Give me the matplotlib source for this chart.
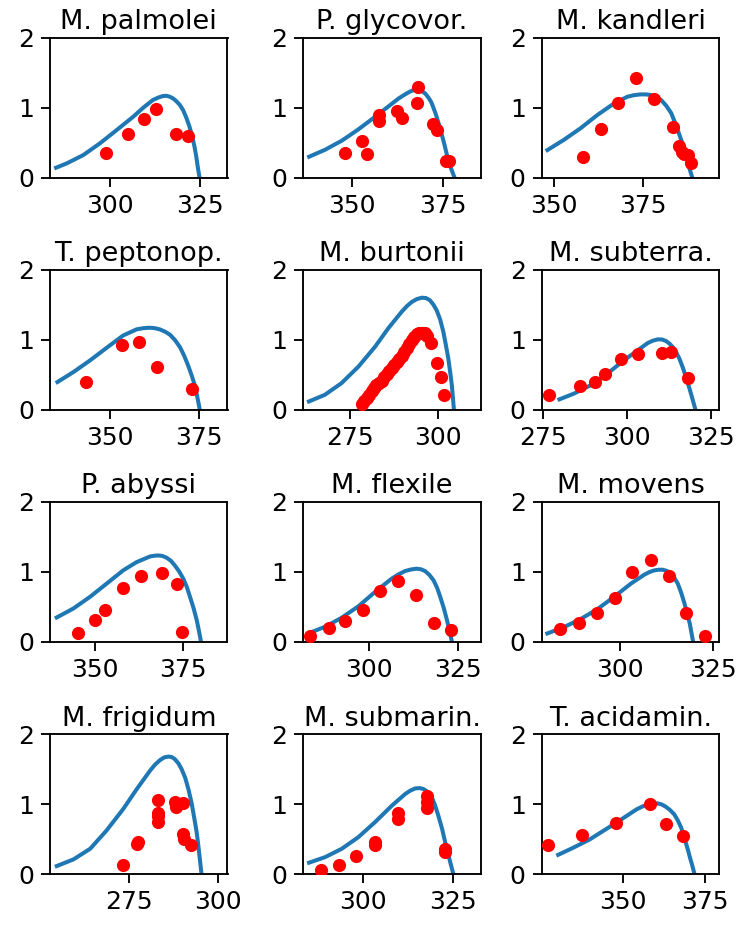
import matplotlib
matplotlib.use("Agg")
import matplotlib.pyplot as plt
from matplotlib.ticker import MultipleLocator

names = ["M. palmolei", "P. glycovor.", "M. kandleri",
         "T. peptonop.", "M. burtonii", "M. subterra.",
         "P. abyssi", "M. flexile", "M. movens",
         "M. frigidum", "M. submarin.", "T. acidamin."]

# observed points (temperature K, growth rate)
obs_t = [
    [298.9, 305.1, 309.4, 312.8, 318.5, 321.9],
    [348.2, 352.7, 354.3, 357.5, 357.6, 362.4, 363.7, 367.9, 368.2, 372.2, 373.5, 375.9, 376.6],
    [358.2, 363.1, 368.0, 373.1, 378.1, 383.2, 385.1, 385.8, 386.3, 387.5, 388.2],
    [343.3, 353.5, 358.2, 363.1, 373.1],
    [278.3, 279.1, 279.7, 280.4, 281.1, 281.9, 282.5, 283.2, 284.0, 284.7, 285.4, 286.0, 286.8,
     287.5, 288.2, 288.9, 289.6, 290.4, 291.0, 291.7, 292.5, 293.2, 293.9, 294.5, 295.3, 296.2,
     296.7, 297.9, 299.5, 300.8, 301.7],
    [276.8, 286.1, 290.4, 293.3, 298.3, 303.2, 310.4, 313.2, 318.3],
    [345.1, 350.0, 352.8, 358.0, 363.0, 369.1, 373.1, 374.7],
    [283.1, 288.4, 293.1, 298.3, 303.0, 308.0, 313.2, 318.2, 323.2],
    [283.9, 288.9, 293.7, 298.6, 303.3, 308.3, 313.1, 317.8, 322.7],
    [273.1, 277.1, 277.3, 283.1, 283.1, 283.1, 283.1, 287.8, 288.1, 290.2, 290.2, 290.4, 292.3],
    [288.2, 293.1, 298.0, 303.1, 303.1, 309.7, 309.7, 317.6, 317.6, 317.6, 322.7, 322.7],
    [327.3, 337.8, 347.9, 358.3, 363.1, 368.3],
]
obs_r = [
    [0.357, 0.619, 0.843, 0.981, 0.619, 0.60],
    [0.348, 0.524, 0.338, 0.895, 0.814, 0.957, 0.848, 1.07, 1.29, 0.762, 0.681, 0.238, 0.243],
    [0.30, 0.695, 1.07, 1.43, 1.12, 0.729, 0.457, 0.371, 0.338, 0.324, 0.214],
    [0.40, 0.919, 0.967, 0.61, 0.29],
    [0.08, 0.118, 0.166, 0.204, 0.261, 0.308, 0.346, 0.379, 0.417, 0.464, 0.507, 0.555, 0.592,
     0.64, 0.678, 0.725, 0.773, 0.829, 0.886, 0.934, 0.995, 1.043, 1.076, 1.09, 1.10, 1.09,
     1.057, 0.948, 0.673, 0.474, 0.204],
    [0.205, 0.333, 0.395, 0.505, 0.729, 0.80, 0.81, 0.824, 0.452],
    [0.118, 0.308, 0.45, 0.768, 0.938, 0.986, 0.82, 0.133],
    [0.085, 0.19, 0.294, 0.45, 0.72, 0.863, 0.673, 0.27, 0.166],
    [0.18, 0.261, 0.403, 0.63, 0.995, 1.161, 0.934, 0.403, 0.085],
    [0.137, 0.427, 0.46, 1.062, 0.877, 0.839, 0.744, 1.038, 0.967, 1.014, 0.578, 0.507, 0.422],
    [0.066, 0.128, 0.256, 0.422, 0.46, 0.877, 0.791, 1.114, 1.028, 0.943, 0.365, 0.318],
    [0.42, 0.566, 0.726, 1.0, 0.717, 0.552],
]

# fitted model curves
fit_t = [
    [285.0, 288.0, 292.6, 297.2, 301.9, 306.5, 309.3, 312.0, 313.5, 314.8, 315.8, 316.7, 317.6, 318.5, 319.5, 320.4, 321.3, 322.2, 323.0, 323.6, 324.1, 324.5, 325.0],
    [338.3, 342.7, 347.3, 351.8, 356.4, 360.1, 362.8, 364.3, 365.6, 366.6, 367.4, 368.3, 369.2, 370.2, 371.1, 371.8, 372.4, 373.1, 373.8, 374.5, 375.2, 375.9, 376.6, 377.4, 378.2],
    [348.3, 352.8, 357.5, 362.2, 366.9, 370.6, 372.5, 374.3, 375.8, 377.2, 378.6, 380.0, 381.4, 382.8, 383.7, 384.6, 385.6, 386.5, 387.2, 387.9, 388.7],
    [335.2, 339.7, 344.4, 349.1, 353.7, 357.5, 359.4, 361.2, 362.6, 364.0, 365.5, 366.9, 368.3, 369.7, 370.9, 372.0, 373.0, 373.9, 374.6, 375.3],
    [263.4, 267.9, 272.6, 277.4, 282.1, 285.8, 289.6, 291.1, 292.5, 293.9, 295.3, 296.5, 297.6, 298.6, 299.5, 300.5, 301.4, 302.1, 302.8, 303.3, 303.8, 304.4],
    [279.8, 284.1, 289.1, 294.1, 299.1, 303.2, 306.2, 307.7, 309.2, 310.5, 311.7, 312.7, 313.7, 314.7, 315.7, 316.8, 317.8, 318.6, 319.3, 320.5],
    [339.2, 343.9, 348.6, 353.3, 358.0, 361.8, 365.6, 366.8, 367.9, 369.1, 370.3, 371.5, 372.6, 373.8, 375.0, 376.0, 376.9, 377.9, 378.8, 379.4, 380.0],
    [282.7, 287.4, 292.1, 296.9, 301.6, 306.3, 308.2, 310.1, 311.8, 313.4, 314.6, 315.8, 317.0, 318.2, 319.2, 320.1, 321.1, 322.0, 322.7, 323.4],
    [280.5, 284.8, 289.4, 293.9, 298.4, 302.9, 306.5, 307.9, 309.2, 310.4, 311.5, 312.6, 313.7, 314.6, 315.5, 316.4, 317.3, 318.0, 318.7, 319.6],
    [254.6, 259.3, 264.0, 268.6, 273.3, 277.1, 280.8, 282.2, 283.6, 284.8, 286.0, 286.9, 287.8, 288.8, 289.7, 290.7, 291.6, 292.5, 293.3, 293.9, 294.4, 295.3],
    [284.9, 289.4, 294.0, 298.6, 303.2, 307.9, 311.6, 313.0, 314.4, 315.6, 316.7, 317.9, 319.0, 319.9, 320.8, 321.8, 322.7, 323.4, 324.1, 325.0],
    [330.4, 334.7, 339.9, 345.0, 350.2, 354.3, 356.2, 358.0, 359.3, 360.5, 361.8, 363.1, 364.4, 365.7, 366.8, 367.8, 368.8, 369.8, 370.5, 371.2, 371.9],
]
fit_r = [
    [0.143, 0.205, 0.324, 0.49, 0.681, 0.871, 1.0, 1.11, 1.145, 1.167, 1.17, 1.157, 1.133, 1.095, 1.04, 0.967, 0.86, 0.729, 0.58, 0.443, 0.30, 0.157, 0.0],
    [0.30, 0.40, 0.53, 0.69, 0.87, 1.02, 1.13, 1.18, 1.22, 1.245, 1.255, 1.255, 1.24, 1.2, 1.14, 1.08, 1.0, 0.9, 0.78, 0.65, 0.52, 0.37, 0.22, 0.11, 0.0],
    [0.395, 0.538, 0.705, 0.895, 1.062, 1.157, 1.18, 1.19, 1.19, 1.18, 1.155, 1.11, 1.03, 0.924, 0.81, 0.686, 0.54, 0.40, 0.27, 0.133, 0.0],
    [0.395, 0.538, 0.705, 0.886, 1.06, 1.148, 1.165, 1.171, 1.165, 1.148, 1.115, 1.071, 0.995, 0.895, 0.77, 0.633, 0.49, 0.348, 0.18, 0.0],
    [0.118, 0.213, 0.379, 0.616, 0.90, 1.161, 1.398, 1.48, 1.54, 1.58, 1.60, 1.595, 1.564, 1.50, 1.422, 1.29, 1.114, 0.93, 0.735, 0.55, 0.355, 0.0],
    [0.148, 0.229, 0.348, 0.514, 0.705, 0.848, 0.952, 0.985, 1.005, 1.003, 0.981, 0.945, 0.895, 0.82, 0.729, 0.59, 0.443, 0.32, 0.205, 0.0],
    [0.346, 0.474, 0.64, 0.829, 1.019, 1.137, 1.218, 1.228, 1.232, 1.225, 1.199, 1.155, 1.09, 1.005, 0.90, 0.78, 0.64, 0.48, 0.308, 0.16, 0.0],
    [0.118, 0.213, 0.341, 0.507, 0.711, 0.90, 0.96, 1.009, 1.032, 1.043, 1.035, 1.009, 0.955, 0.877, 0.77, 0.64, 0.48, 0.308, 0.16, 0.0],
    [0.118, 0.204, 0.322, 0.464, 0.64, 0.829, 0.957, 0.995, 1.019, 1.028, 1.028, 1.01, 0.972, 0.91, 0.829, 0.70, 0.545, 0.40, 0.261, 0.0],
    [0.118, 0.213, 0.365, 0.626, 0.934, 1.218, 1.479, 1.565, 1.63, 1.67, 1.682, 1.675, 1.645, 1.585, 1.502, 1.38, 1.218, 1.02, 0.791, 0.61, 0.412, 0.0],
    [0.166, 0.246, 0.365, 0.531, 0.744, 0.981, 1.147, 1.195, 1.227, 1.232, 1.218, 1.175, 1.10, 0.985, 0.839, 0.66, 0.46, 0.32, 0.175, 0.0],
    [0.278, 0.373, 0.495, 0.646, 0.802, 0.929, 0.972, 1.0, 1.012, 1.014, 1.0, 0.967, 0.92, 0.858, 0.77, 0.67, 0.52, 0.363, 0.24, 0.127, 0.0],
]

xlims = [(283.3, 332.8), (336.7, 385.4), (346.7, 396.2),
         (333.1, 383.1), (261.8, 312.0), (274.5, 327.6),
         (337.3, 387.5), (281.25, 331.6), (279.0, 326.6),
         (252.7, 302.6), (283.3, 332.6), (325.4, 379.4)]

W, H = 736, 925
fig = plt.figure(figsize=(W / 100, H / 100), dpi=100)
col_left = [50, 303.3, 541.7]
row_top = [37.7, 269.7, 501.7, 734.3]
aw, ah = 177.5, 140

for i in range(12):
    r, c = divmod(i, 3)
    ax = fig.add_axes([col_left[c] / W, 1 - (row_top[r] + ah) / H, aw / W, ah / H])
    ax.plot(fit_t[i], fit_r[i], color="#1f77b4", lw=2.9, zorder=2)
    ax.scatter(obs_t[i], obs_r[i], color="red", s=90, zorder=3, linewidths=0)
    ax.set_xlim(*xlims[i])
    ax.set_ylim(0, 2)
    ax.set_yticks([0, 1, 2])
    ax.xaxis.set_major_locator(MultipleLocator(25))
    ax.set_title(names[i], fontsize=19.5, pad=6)
    ax.tick_params(labelsize=18, length=6.5, width=1.35, pad=5)
    for s in ax.spines.values():
        s.set_linewidth(1.35)

fig.savefig("out.png", dpi=100)
